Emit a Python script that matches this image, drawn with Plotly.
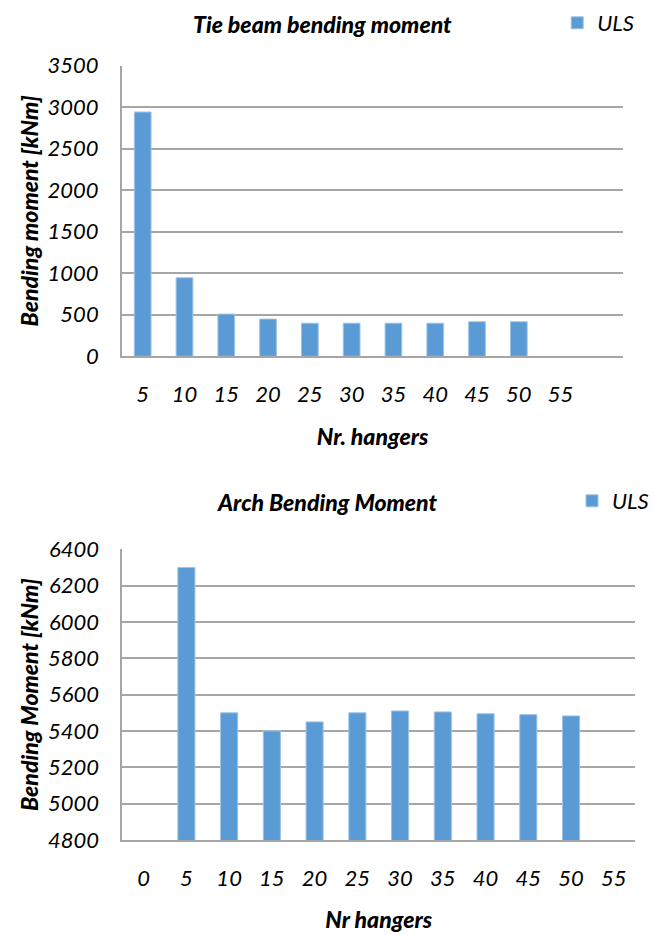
import plotly.graph_objects as go

# Number of hangers and ULS bending moments [kNm]
tie_hangers = [5, 10, 15, 20, 25, 30, 35, 40, 45, 50]
tie_uls = [2940, 945, 508, 448, 398, 398, 398, 398, 416, 416]
tie_ticks = [5, 10, 15, 20, 25, 30, 35, 40, 45, 50, 55]

arch_hangers = [5, 10, 15, 20, 25, 30, 35, 40, 45, 50]
arch_uls = [6300, 5500, 5400, 5450, 5500, 5510, 5505, 5495, 5490, 5483]
arch_ticks = [0, 5, 10, 15, 20, 25, 30, 35, 40, 45, 50, 55]

W, H = 654, 935
FONT = "Lato, Liberation Sans, sans-serif"
BLUE = "#5b9bd5"
GRID = "#a6a6a6"


def px_x(v):
    return v / W


def px_y(v):
    return 1 - v / H


fig = go.Figure()

fig.add_trace(go.Bar(
    x=tie_hangers, y=tie_uls, name="ULS", width=2.0,
    marker=dict(color=BLUE, line=dict(color="#9dc3e6", width=1)),
    xaxis="x", yaxis="y", legend="legend",
))
fig.add_trace(go.Bar(
    x=arch_hangers, y=arch_uls, name="ULS", width=2.0,
    marker=dict(color=BLUE, line=dict(color="#9dc3e6", width=1)),
    xaxis="x2", yaxis="y2", legend="legend2",
))

tick_font = dict(family=FONT, size=22, color="#000", style="italic")
title_font = dict(family=FONT, size=23, color="#000", style="italic", weight=900)

common_x = dict(
    tickmode="array", showgrid=False, showline=True, linecolor=GRID,
    linewidth=1.5, ticks="", tickfont=tick_font, ticklabelstandoff=18,
    zeroline=False, fixedrange=True, automargin=False,
)
common_y = dict(
    showgrid=True, gridcolor=GRID, gridwidth=1.5, showline=True,
    linecolor=GRID, linewidth=1.5, ticks="", tickfont=tick_font,
    ticklabelstandoff=17, zeroline=False, fixedrange=True, automargin=False,
)

legend_font = dict(family=FONT, size=22, color="#000", style="italic")

fig.update_layout(
    width=W, height=H,
    margin=dict(l=0, r=0, t=0, b=0),
    paper_bgcolor="white", plot_bgcolor="white",
    barmode="overlay", showlegend=True,
    xaxis=dict(
        common_x, domain=[px_x(123.5), px_x(632)], range=[2.5, 62.5],
        tickvals=tie_ticks, ticktext=[str(t) for t in tie_ticks],
        anchor="y",
        title=dict(text="Nr. hangers", font=title_font, standoff=22),
    ),
    yaxis=dict(
        common_y, domain=[px_y(356.3), px_y(65.5)], range=[0, 3500],
        dtick=500, anchor="x",
        title=dict(text="Bending moment [kNm]", font=title_font, standoff=3),
    ),
    xaxis2=dict(
        common_x, domain=[px_x(124), px_x(644)], range=[-2.5, 57.5],
        tickvals=arch_ticks, ticktext=[str(t) for t in arch_ticks],
        anchor="y2",
        title=dict(text="Nr hangers", font=title_font, standoff=22),
    ),
    yaxis2=dict(
        common_y, domain=[px_y(840), px_y(549.3)], range=[4800, 6400],
        dtick=200, anchor="x2",
        title=dict(text="Bending Moment [kNm]", font=title_font, standoff=3),
    ),
    legend=dict(
        x=px_x(565), y=px_y(2), xanchor="left", yanchor="top",
        font=legend_font, bgcolor="rgba(0,0,0,0)", itemwidth=30,
    ),
    legend2=dict(
        x=px_x(580), y=px_y(480), xanchor="left", yanchor="top",
        font=legend_font, bgcolor="rgba(0,0,0,0)", itemwidth=30,
    ),
    annotations=[
        dict(text="Tie beam bending moment", x=px_x(327), y=px_y(24),
             xref="paper", yref="paper", xanchor="center", yanchor="middle",
             showarrow=False, font=title_font),
        dict(text="Arch Bending Moment", x=px_x(332), y=px_y(502),
             xref="paper", yref="paper", xanchor="center", yanchor="middle",
             showarrow=False, font=title_font),
    ],
)

fig.write_html("out.html")
